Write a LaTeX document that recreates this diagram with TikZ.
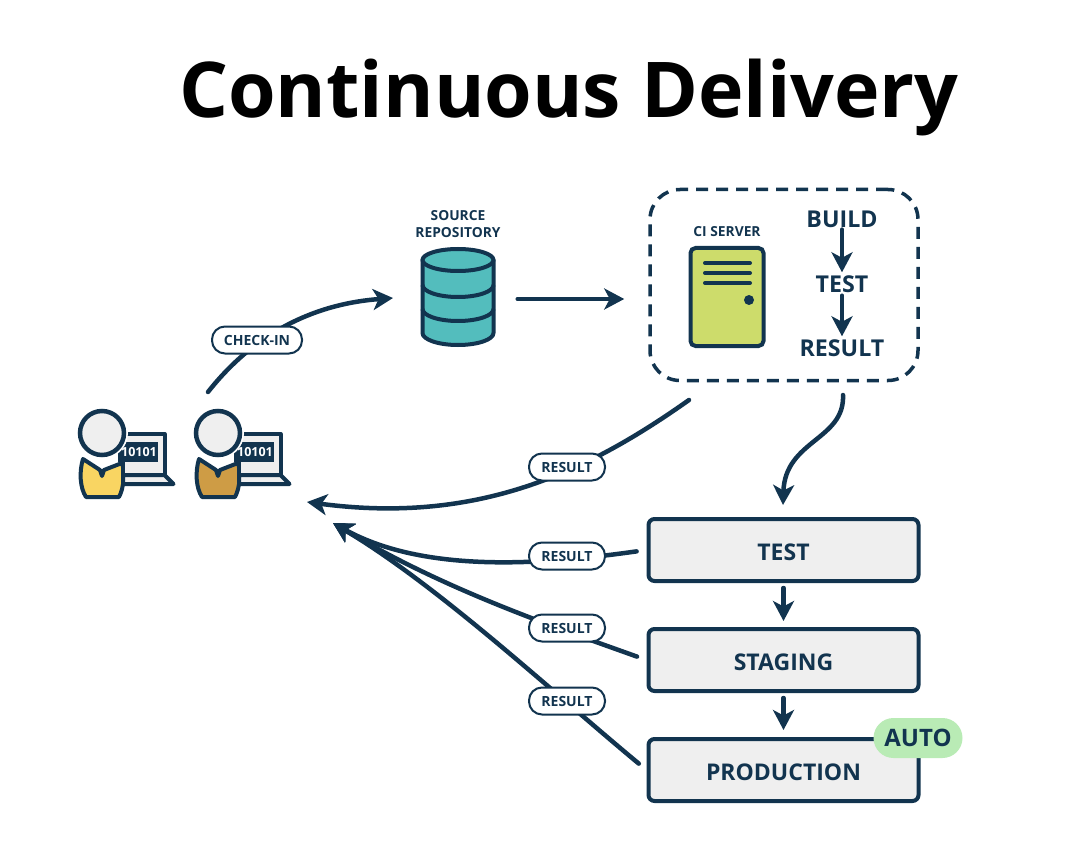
\documentclass[tikz,border=0pt]{standalone}
\usepackage{fontspec}
\setmainfont{Open Sans}
\usetikzlibrary{arrows.meta,positioning}

\newcommand{\drawdev}[3]{
	\begin{scope}[xshift=#2]
		\path[figline, fill=#3]
		(83,459) .. controls (79,472) and (80,488) .. (86,497) -- (119,497)
		.. controls (124,488) and (125,472) .. (122,463) -- (104,470) -- (102,476) -- (100,470) -- cycle;
		\path[figline, fill=paleGrey] (123,434) rectangle (164.5,475);
		\path[figline, fill=paleGrey] (123,475) -- (164.5,475) -- (173.5,484) -- (123,484) -- cycle;
		\fill[inkBlue] (118,442) rectangle (158,462);
		\node [codetext] (#1code) at (139,452) {10101};
		\fill[white] (102,433) circle (26);
		\node [head] (#1) at (102,433) {};
	\end{scope}
}

\begin{document}
\begin{tikzpicture}[x=1pt, y=-1pt]
			\definecolor{inkBlue}{RGB}{18, 52, 79}
			\definecolor{paleGrey}{RGB}{239, 239, 239}
			\definecolor{repoTeal}{RGB}{83, 189, 189}
			\definecolor{serverLime}{RGB}{205, 220, 107}
			\definecolor{devYellow}{RGB}{249, 213, 98}
			\definecolor{devTan}{RGB}{206, 156, 69}
			\definecolor{autoGreen}{RGB}{185, 235, 181}
			\tikzstyle{figline}=[draw=inkBlue, line width=4pt, line join=round]
			\tikzstyle{head}=[circle, draw=inkBlue, fill=paleGrey, line width=4.5pt, minimum size=44pt, inner sep=0pt]
			\tikzstyle{codetext}=[text=white, font=\bfseries\fontsize{12.5}{13}\selectfont, inner sep=0pt]
			\tikzstyle{stage}=[rectangle, rounded corners=6pt, draw=inkBlue, fill=paleGrey, line width=4pt, minimum width=270pt, minimum height=62pt, inner sep=0pt, text=inkBlue, text height=20pt, text depth=0pt, font=\bfseries\fontsize{23}{25}\selectfont]
			\tikzstyle{pill}=[rectangle, rounded corners=13pt, draw=inkBlue, fill=white, line width=2pt, minimum height=27pt, inner sep=0pt, text=inkBlue, text height=11pt, text depth=0pt, font=\bfseries\fontsize{14}{15}\selectfont]
			\tikzstyle{tiny}=[text=inkBlue, font=\bfseries\fontsize{13.8}{17}\selectfont, align=center, inner sep=0pt]
			\tikzstyle{word}=[text=inkBlue, font=\bfseries\fontsize{23.2}{25}\selectfont, inner sep=0pt]
			\tikzstyle{flow}=[-{Stealth[length=20pt, width=21pt, inset=5.5pt]}, draw=inkBlue, line width=4.5pt, line cap=round]

			\useasboundingbox (0,0) rectangle (1068,850);

			\node [font=\bfseries\fontsize{77}{82}\selectfont, inner sep=0pt] (title) at (569,98) {Continuous Delivery};

			\drawdev{devA}{0pt}{devYellow}
			\drawdev{devB}{116pt}{devTan}

			% repository
			\node [inner sep=0pt, minimum width=75pt, minimum height=100pt] (repo) at (458,299) {};
			\path[figline, fill=repoTeal] (422.5,260) -- (422.5,333) arc[start angle=180, end angle=0, x radius=35.5, y radius=12] -- (493.5,260) -- cycle;
			\path[figline, fill=repoTeal] (458,260) ellipse (35.5 and 11);
			\draw[figline] (422.5,285) arc[start angle=180, end angle=0, x radius=35.5, y radius=12];
			\draw[figline] (422.5,309) arc[start angle=180, end angle=0, x radius=35.5, y radius=12];
			\node [tiny] (repolabel) at (458,224) {SOURCE\\REPOSITORY};

			% ci server
			\node [rectangle, rounded corners=30pt, draw=inkBlue, line width=3.5pt, dash pattern=on 12pt off 8pt, minimum width=268pt, minimum height=191pt] (ci) at (784,285) {};
			\node [rectangle, rounded corners=5pt, draw=inkBlue, fill=serverLime, line width=4pt, minimum width=73pt, minimum height=98pt] (server) at (727,297) {};
			\draw[inkBlue, line width=4pt, line cap=round] (705,263) -- (750,263) (705,273) -- (750,273) (705,283) -- (750,283);
			\fill[inkBlue] (749,300) circle (5);
			\node [tiny] (cilabel) at (727,232) {CI SERVER};
			\node [word] (build) at (842,219) {BUILD};
			\node [word] (citest) at (842,284) {TEST};
			\node [word] (ciresult) at (842,348) {RESULT};

			% stages
			\node [stage] (test) at (783.5,550) {TEST};
			\node [stage] (staging) at (783.5,660) {STAGING};
			\node [stage] (production) at (783.5,770) {PRODUCTION};
			\node [rectangle, rounded corners=20pt, fill=autoGreen, minimum width=89pt, minimum height=40pt, inner sep=0pt, text=inkBlue, font=\bfseries\fontsize{24}{26}\selectfont] (auto) at (918,738) {AUTO};

			% free ends
			\coordinate (checkstart) at (208,392);
			\coordinate (ciout) at (689,400);
			\coordinate (ciflow) at (843,395);
			\coordinate (tipA) at (307,502);
			\coordinate (tipB) at (333,523);

			\path
			(repo.east) edge[flow, shorten <=22pt, shorten >=24pt] (repo.east -| ci.west)
			(build) edge[flow, shorten <=2pt, shorten >=3pt] (citest)
			(citest) edge[flow, shorten <=3pt, shorten >=3pt] (ciresult)
			(test) edge[flow, shorten <=5pt, shorten >=6pt] (staging)
			(staging) edge[flow, shorten <=5pt, shorten >=7pt] (production);

			\draw[flow] (checkstart) .. controls (245,345) and (300,305) .. (393,298);
			\draw[flow] (ciflow) .. controls (845,440) and (785,440) .. (783,505);
			\draw[flow] (ciout) .. controls (590,470) and (480,525) .. (tipA);
			\draw[flow, shorten <=10pt] (test.west) .. controls (560,562) and (430,577) .. (tipB);
			\draw[flow, shorten <=10pt] (staging.west) .. controls (540,622) and (440,587) .. (tipB);
			\draw[flow, shorten <=10pt] (production.west) .. controls (550,690) and (440,587) .. (tipB);

			\node [pill, minimum width=90pt] (checkin) at (257,340) {CHECK-IN};
			\node [pill, minimum width=76pt] (resultA) at (567,467) {RESULT};
			\node [pill, minimum width=76pt] (resultB) at (567,556) {RESULT};
			\node [pill, minimum width=76pt] (resultC) at (567,628) {RESULT};
			\node [pill, minimum width=76pt] (resultD) at (567,701) {RESULT};
\end{tikzpicture}
\end{document}
